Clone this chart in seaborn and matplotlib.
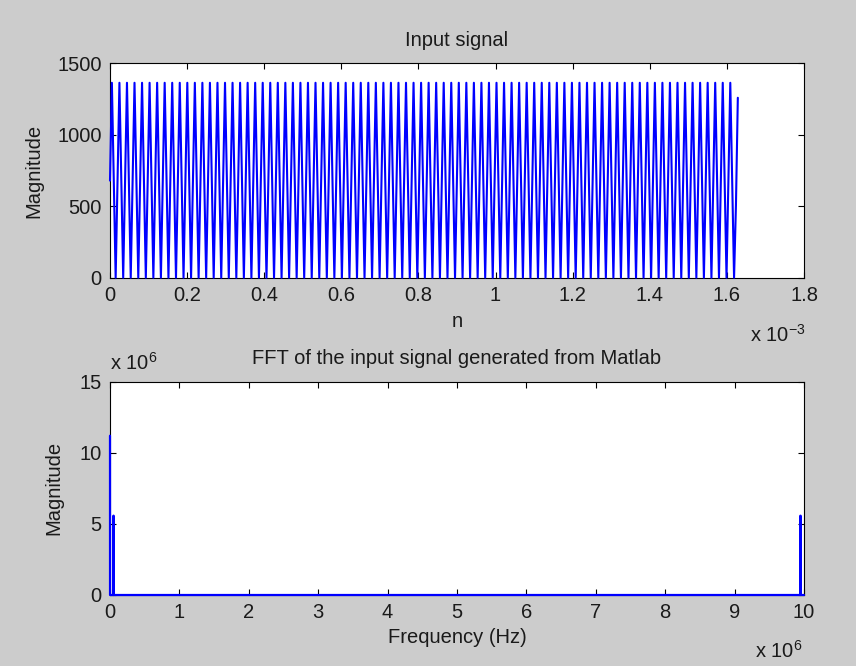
import numpy as np
import pandas as pd
import seaborn as sns
import matplotlib.pyplot as plt

# input signal, one sample every quarter period
sample_step = 0.00489e-3  # seconds between samples
signal_mag = [
    680, 1365, 680, 0, 680, 1365, 680, 0, 680, 1365, 680, 0, 680, 1365, 680, 0,
    680, 1365, 680, 0, 680, 1365, 680, 0, 680, 1365, 680, 0, 680, 1365, 680, 0,
    680, 1365, 680, 0, 680, 1365, 680, 0, 680, 1365, 680, 0, 680, 1365, 680, 0,
    680, 1365, 680, 0, 680, 1365, 680, 0, 680, 1365, 680, 0, 680, 1365, 680, 0,
    680, 1365, 680, 0, 680, 1365, 680, 0, 680, 1365, 680, 0, 680, 1365, 680, 0,
    680, 1365, 680, 0, 680, 1365, 680, 0, 680, 1365, 680, 0, 680, 1365, 680, 0,
    680, 1365, 680, 0, 680, 1365, 680, 0, 680, 1365, 680, 0, 680, 1365, 680, 0,
    680, 1365, 680, 0, 680, 1365, 680, 0, 680, 1365, 680, 0, 680, 1365, 680, 0,
    680, 1365, 680, 0, 680, 1365, 680, 0, 680, 1365, 680, 0, 680, 1365, 680, 0,
    680, 1365, 680, 0, 680, 1365, 680, 0, 680, 1365, 680, 0, 680, 1365, 680, 0,
    680, 1365, 680, 0, 680, 1365, 680, 0, 680, 1365, 680, 0, 680, 1365, 680, 0,
    680, 1365, 680, 0, 680, 1365, 680, 0, 680, 1365, 680, 0, 680, 1365, 680, 0,
    680, 1365, 680, 0, 680, 1365, 680, 0, 680, 1365, 680, 0, 680, 1365, 680, 0,
    680, 1365, 680, 0, 680, 1365, 680, 0, 680, 1365, 680, 0, 680, 1365, 680, 0,
    680, 1365, 680, 0, 680, 1365, 680, 0, 680, 1365, 680, 0, 680, 1365, 680, 0,
    680, 1365, 680, 0, 680, 1365, 680, 0, 680, 1365, 680, 0, 680, 1365, 680, 0,
    680, 1365, 680, 0, 680, 1365, 680, 0, 680, 1365, 680, 0, 680, 1365, 680, 0,
    680, 1365, 680, 0, 680, 1365, 680, 0, 680, 1365, 680, 0, 680, 1365, 680, 0,
    680, 1365, 680, 0, 680, 1365, 680, 0, 680, 1365, 680, 0, 680, 1365, 680, 0,
    680, 1365, 680, 0, 680, 1365, 680, 0, 680, 1365, 680, 0, 680, 1365, 680, 0,
    680, 1365, 680, 0, 680, 1365, 680, 0, 680, 1365, 680, 0, 507, 1260,
]

# FFT magnitude (spikes at DC, ~50 kHz and its mirror)
fft_freq = [0, 610, 50020, 50630, 51240, 9948760, 9949370, 9949980, 9999390]
fft_mag = [11.2e6, 0, 0, 5.58e6, 0, 0, 5.58e6, 0, 0]

top_xticks = [0, 0.2e-3, 0.4e-3, 0.6e-3, 0.8e-3, 1.0e-3, 1.2e-3, 1.4e-3, 1.6e-3, 1.8e-3]
top_xticklabels = ['0', '0.2', '0.4', '0.6', '0.8', '1', '1.2', '1.4', '1.6', '1.8']
top_yticks = [0, 500, 1000, 1500]
bot_xticks = [0, 1e6, 2e6, 3e6, 4e6, 5e6, 6e6, 7e6, 8e6, 9e6, 10e6]
bot_xticklabels = [str(i) for i in range(11)]
bot_yticks = [0, 5e6, 10e6, 15e6]
bot_yticklabels = ['0', '5', '10', '15']

sig_df = pd.DataFrame({"n": np.arange(len(signal_mag)) * sample_step, "mag": signal_mag})
fft_df = pd.DataFrame({"freq": fft_freq, "mag": fft_mag})

sns.set_theme(style="ticks")
plt.rcParams['font.family'] = ['Liberation Sans', 'DejaVu Sans']
plt.rcParams['mathtext.fontset'] = 'custom'
plt.rcParams['mathtext.rm'] = 'Liberation Sans'
plt.rcParams['mathtext.it'] = 'Liberation Sans'
fs = 14.5
grey = '#cccccc'
txt = '#1a1a1a'

fig = plt.figure(figsize=(8.56, 6.66), dpi=100, facecolor=grey)
ax1 = fig.add_axes([110 / 856, 1 - 277.7 / 666, 694 / 856, 214.2 / 666])
ax2 = fig.add_axes([110 / 856, 1 - 595 / 666, 694 / 856, 213.3 / 666])

sns.lineplot(data=sig_df, x="n", y="mag", ax=ax1, color='#0000ff', linewidth=1.5,
             sort=False, estimator=None, clip_on=False, zorder=3)
sns.lineplot(data=fft_df, x="freq", y="mag", ax=ax2, color='#0000ff', linewidth=1.6,
             sort=False, estimator=None, clip_on=False, zorder=3)

for ax in (ax1, ax2):
    ax.set_facecolor('white')
    ax.tick_params(direction='in', top=True, right=True, length=4.3, width=0.8,
                   labelsize=fs, pad=6, colors='black', labelcolor=txt)
    for sp in ax.spines.values():
        sp.set_color('black')
        sp.set_linewidth(0.8)
        sp.set_visible(True)

ax1.set_xlim(0, 1.8e-3)
ax1.set_ylim(0, 1500)
ax1.set_xticks(top_xticks)
ax1.set_xticklabels(top_xticklabels)
ax1.set_yticks(top_yticks)
ax1.set_yticklabels([str(v) for v in top_yticks])
ax1.set_title('Input signal', fontsize=fs, pad=12.8, color=txt)
ax1.set_xlabel('n', fontsize=fs, color=txt)
ax1.set_ylabel('Magnitude', fontsize=fs, color=txt)
ax1.xaxis.set_label_coords(0.5, -0.158)
ax1.yaxis.set_label_coords(-0.0965, 0.5)

ax2.set_xlim(0, 10e6)
ax2.set_ylim(0, 15e6)
ax2.set_xticks(bot_xticks)
ax2.set_xticklabels(bot_xticklabels)
ax2.set_yticks(bot_yticks)
ax2.set_yticklabels(bot_yticklabels)
ax2.set_title('FFT of the input signal generated from Matlab', fontsize=fs, pad=12.8, color=txt)
ax2.set_xlabel('Frequency (Hz)', fontsize=fs, color=txt)
ax2.set_ylabel('Magnitude', fontsize=fs, color=txt)
ax2.xaxis.set_label_coords(0.5, -0.157)
ax2.yaxis.set_label_coords(-0.0677, 0.5)

# MATLAB-style exponent labels
fig.text(750 / 856, 1 - 342 / 666, r'x 10$^{-3}$', fontsize=fs, color=txt, va='baseline')
fig.text(110 / 856, 1 - 370 / 666, r'x 10$^{6}$', fontsize=fs, color=txt, va='baseline')
fig.text(755 / 856, 1 - 658 / 666, r'x 10$^{6}$', fontsize=fs, color=txt, va='baseline')

fig.savefig('out.png', dpi=100, facecolor=grey)
